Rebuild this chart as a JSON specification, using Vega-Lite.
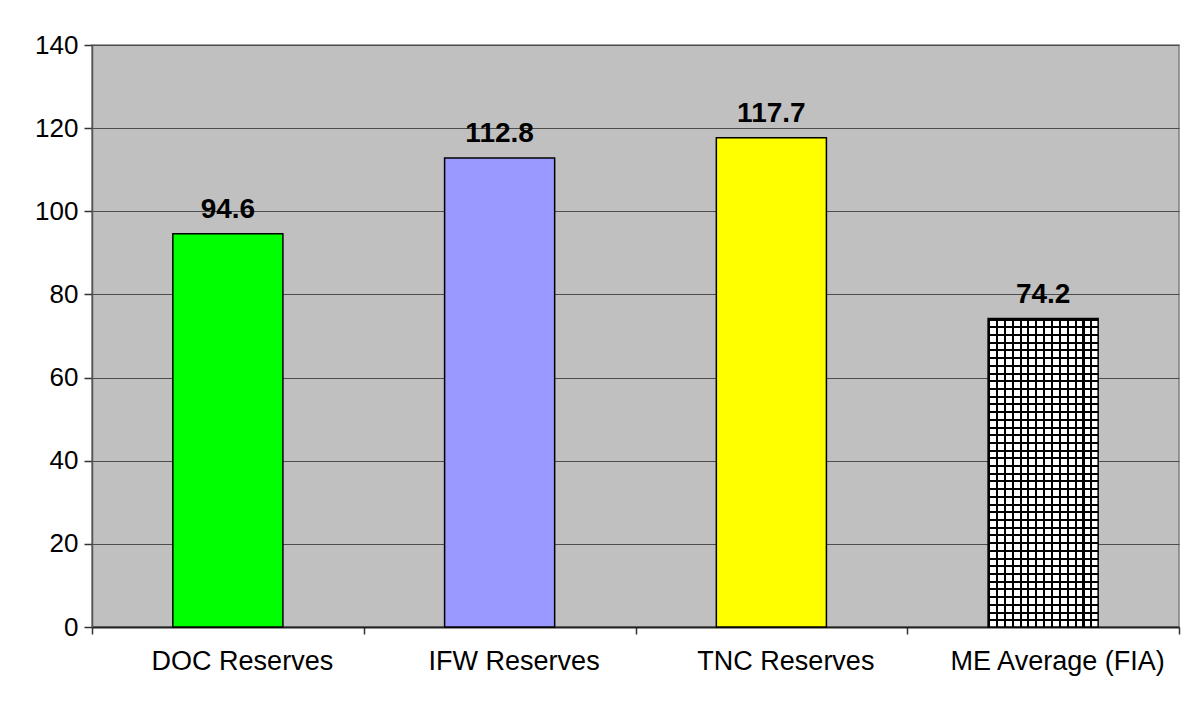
{
  "$schema": "https://vega.github.io/schema/vega-lite/v6.json",
  "autosize": "none",
  "width": 1087,
  "height": 582,
  "padding": {"left": 92, "top": 45, "right": 10, "bottom": 77},
  "background": "white",
  "config": {
    "font": "Liberation Sans",
    "view": {"fill": "#C0C0C0", "stroke": "#808080", "strokeWidth": 1.5}
  },
  "data": {
    "values": [
      {"group": "DOC Reserves", "value": 94.6},
      {"group": "IFW Reserves", "value": 112.8},
      {"group": "TNC Reserves", "value": 117.7},
      {"group": "ME Average (FIA)", "value": 74.2}
    ]
  },
  "encoding": {
    "x": {
      "field": "group",
      "type": "nominal",
      "sort": null,
      "title": null,
      "scale": {"paddingInner": 0, "paddingOuter": 0},
      "axis": {
        "labelAngle": 0,
        "labelFont": "Liberation Sans",
        "labelFontSize": 27,
        "labelColor": "#000",
        "labelLimit": 0,
        "labelPadding": 14,
        "labelOffset": 14,
        "tickBand": "extent",
        "tickSize": 7,
        "tickColor": "#333",
        "tickWidth": 1.5,
        "domainColor": "#222",
        "domainWidth": 2,
        "grid": false
      }
    },
    "y": {
      "field": "value",
      "type": "quantitative",
      "title": null,
      "scale": {"domain": [0, 140], "nice": false},
      "axis": {
        "values": [0, 20, 40, 60, 80, 100, 120, 140],
        "labelFont": "Liberation Sans",
        "labelFontSize": 26,
        "labelColor": "#000",
        "labelPadding": 6,
        "tickSize": 8,
        "tickColor": "#333",
        "tickWidth": 1.5,
        "domainColor": "#555",
        "domainWidth": 1.5,
        "grid": true,
        "gridColor": "#4d4d4d",
        "gridWidth": 1.2,
        "gridOpacity": 1
      }
    }
  },
  "layer": [
    {
      "transform": [{"filter": "datum.group !== 'ME Average (FIA)'"}],
      "mark": {"type": "bar", "width": {"band": 0.405}, "stroke": "#000", "strokeWidth": 1.5},
      "encoding": {
        "fill": {
          "field": "group",
          "type": "nominal",
          "scale": {"domain": ["DOC Reserves", "IFW Reserves", "TNC Reserves"], "range": ["#00FF00", "#9999FF", "#FFFF00"]},
          "legend": null
        }
      }
    },
    {
      "transform": [{"filter": "datum.group === 'ME Average (FIA)'"}],
      "mark": {
        "type": "bar",
        "width": {"band": 0.405},
        "fill": {
          "gradient": "linear", "x1": 0, "y1": 0, "x2": 1, "y2": 0,
          "stops": [
            {"offset": 0, "color": "#000"}, {"offset": 0.019, "color": "#000"}, {"offset": 0.019, "color": "#fff"}, {"offset": 0.0714, "color": "#fff"},
            {"offset": 0.0714, "color": "#000"}, {"offset": 0.0904, "color": "#000"}, {"offset": 0.0904, "color": "#fff"}, {"offset": 0.1429, "color": "#fff"},
            {"offset": 0.1429, "color": "#000"}, {"offset": 0.1619, "color": "#000"}, {"offset": 0.1619, "color": "#fff"}, {"offset": 0.2143, "color": "#fff"},
            {"offset": 0.2143, "color": "#000"}, {"offset": 0.2333, "color": "#000"}, {"offset": 0.2333, "color": "#fff"}, {"offset": 0.2857, "color": "#fff"},
            {"offset": 0.2857, "color": "#000"}, {"offset": 0.3047, "color": "#000"}, {"offset": 0.3047, "color": "#fff"}, {"offset": 0.3571, "color": "#fff"},
            {"offset": 0.3571, "color": "#000"}, {"offset": 0.3761, "color": "#000"}, {"offset": 0.3761, "color": "#fff"}, {"offset": 0.4286, "color": "#fff"},
            {"offset": 0.4286, "color": "#000"}, {"offset": 0.4476, "color": "#000"}, {"offset": 0.4476, "color": "#fff"}, {"offset": 0.5, "color": "#fff"},
            {"offset": 0.5, "color": "#000"}, {"offset": 0.519, "color": "#000"}, {"offset": 0.519, "color": "#fff"}, {"offset": 0.5714, "color": "#fff"},
            {"offset": 0.5714, "color": "#000"}, {"offset": 0.5904, "color": "#000"}, {"offset": 0.5904, "color": "#fff"}, {"offset": 0.6429, "color": "#fff"},
            {"offset": 0.6429, "color": "#000"}, {"offset": 0.6619, "color": "#000"}, {"offset": 0.6619, "color": "#fff"}, {"offset": 0.7143, "color": "#fff"},
            {"offset": 0.7143, "color": "#000"}, {"offset": 0.7333, "color": "#000"}, {"offset": 0.7333, "color": "#fff"}, {"offset": 0.7857, "color": "#fff"},
            {"offset": 0.7857, "color": "#000"}, {"offset": 0.8047, "color": "#000"}, {"offset": 0.8047, "color": "#fff"}, {"offset": 0.8571, "color": "#fff"},
            {"offset": 0.8571, "color": "#000"}, {"offset": 0.8761, "color": "#000"}, {"offset": 0.8761, "color": "#fff"}, {"offset": 0.9286, "color": "#fff"},
            {"offset": 0.9286, "color": "#000"}, {"offset": 0.9476, "color": "#000"}, {"offset": 0.9476, "color": "#fff"}, {"offset": 1, "color": "#fff"}
          ]
        }
      }
    },
    {
      "transform": [{"filter": "datum.group === 'ME Average (FIA)'"}],
      "mark": {
        "type": "bar",
        "width": {"band": 0.405},
        "stroke": "#000",
        "strokeWidth": 1.5,
        "fill": {
          "gradient": "linear", "x1": 0, "y1": 0, "x2": 0, "y2": 1,
          "stops": [
            {"offset": 0, "color": "rgba(0,0,0,1)"}, {"offset": 0.0065, "color": "rgba(0,0,0,1)"}, {"offset": 0.0065, "color": "rgba(0,0,0,0)"}, {"offset": 0.025, "color": "rgba(0,0,0,0)"},
            {"offset": 0.025, "color": "rgba(0,0,0,1)"}, {"offset": 0.0315, "color": "rgba(0,0,0,1)"}, {"offset": 0.0315, "color": "rgba(0,0,0,0)"}, {"offset": 0.05, "color": "rgba(0,0,0,0)"},
            {"offset": 0.05, "color": "rgba(0,0,0,1)"}, {"offset": 0.0565, "color": "rgba(0,0,0,1)"}, {"offset": 0.0565, "color": "rgba(0,0,0,0)"}, {"offset": 0.075, "color": "rgba(0,0,0,0)"},
            {"offset": 0.075, "color": "rgba(0,0,0,1)"}, {"offset": 0.0815, "color": "rgba(0,0,0,1)"}, {"offset": 0.0815, "color": "rgba(0,0,0,0)"}, {"offset": 0.1, "color": "rgba(0,0,0,0)"},
            {"offset": 0.1, "color": "rgba(0,0,0,1)"}, {"offset": 0.1065, "color": "rgba(0,0,0,1)"}, {"offset": 0.1065, "color": "rgba(0,0,0,0)"}, {"offset": 0.125, "color": "rgba(0,0,0,0)"},
            {"offset": 0.125, "color": "rgba(0,0,0,1)"}, {"offset": 0.1315, "color": "rgba(0,0,0,1)"}, {"offset": 0.1315, "color": "rgba(0,0,0,0)"}, {"offset": 0.15, "color": "rgba(0,0,0,0)"},
            {"offset": 0.15, "color": "rgba(0,0,0,1)"}, {"offset": 0.1565, "color": "rgba(0,0,0,1)"}, {"offset": 0.1565, "color": "rgba(0,0,0,0)"}, {"offset": 0.175, "color": "rgba(0,0,0,0)"},
            {"offset": 0.175, "color": "rgba(0,0,0,1)"}, {"offset": 0.1815, "color": "rgba(0,0,0,1)"}, {"offset": 0.1815, "color": "rgba(0,0,0,0)"}, {"offset": 0.2, "color": "rgba(0,0,0,0)"},
            {"offset": 0.2, "color": "rgba(0,0,0,1)"}, {"offset": 0.2065, "color": "rgba(0,0,0,1)"}, {"offset": 0.2065, "color": "rgba(0,0,0,0)"}, {"offset": 0.225, "color": "rgba(0,0,0,0)"},
            {"offset": 0.225, "color": "rgba(0,0,0,1)"}, {"offset": 0.2315, "color": "rgba(0,0,0,1)"}, {"offset": 0.2315, "color": "rgba(0,0,0,0)"}, {"offset": 0.25, "color": "rgba(0,0,0,0)"},
            {"offset": 0.25, "color": "rgba(0,0,0,1)"}, {"offset": 0.2565, "color": "rgba(0,0,0,1)"}, {"offset": 0.2565, "color": "rgba(0,0,0,0)"}, {"offset": 0.275, "color": "rgba(0,0,0,0)"},
            {"offset": 0.275, "color": "rgba(0,0,0,1)"}, {"offset": 0.2815, "color": "rgba(0,0,0,1)"}, {"offset": 0.2815, "color": "rgba(0,0,0,0)"}, {"offset": 0.3, "color": "rgba(0,0,0,0)"},
            {"offset": 0.3, "color": "rgba(0,0,0,1)"}, {"offset": 0.3065, "color": "rgba(0,0,0,1)"}, {"offset": 0.3065, "color": "rgba(0,0,0,0)"}, {"offset": 0.325, "color": "rgba(0,0,0,0)"},
            {"offset": 0.325, "color": "rgba(0,0,0,1)"}, {"offset": 0.3315, "color": "rgba(0,0,0,1)"}, {"offset": 0.3315, "color": "rgba(0,0,0,0)"}, {"offset": 0.35, "color": "rgba(0,0,0,0)"},
            {"offset": 0.35, "color": "rgba(0,0,0,1)"}, {"offset": 0.3565, "color": "rgba(0,0,0,1)"}, {"offset": 0.3565, "color": "rgba(0,0,0,0)"}, {"offset": 0.375, "color": "rgba(0,0,0,0)"},
            {"offset": 0.375, "color": "rgba(0,0,0,1)"}, {"offset": 0.3815, "color": "rgba(0,0,0,1)"}, {"offset": 0.3815, "color": "rgba(0,0,0,0)"}, {"offset": 0.4, "color": "rgba(0,0,0,0)"},
            {"offset": 0.4, "color": "rgba(0,0,0,1)"}, {"offset": 0.4065, "color": "rgba(0,0,0,1)"}, {"offset": 0.4065, "color": "rgba(0,0,0,0)"}, {"offset": 0.425, "color": "rgba(0,0,0,0)"},
            {"offset": 0.425, "color": "rgba(0,0,0,1)"}, {"offset": 0.4315, "color": "rgba(0,0,0,1)"}, {"offset": 0.4315, "color": "rgba(0,0,0,0)"}, {"offset": 0.45, "color": "rgba(0,0,0,0)"},
            {"offset": 0.45, "color": "rgba(0,0,0,1)"}, {"offset": 0.4565, "color": "rgba(0,0,0,1)"}, {"offset": 0.4565, "color": "rgba(0,0,0,0)"}, {"offset": 0.475, "color": "rgba(0,0,0,0)"},
            {"offset": 0.475, "color": "rgba(0,0,0,1)"}, {"offset": 0.4815, "color": "rgba(0,0,0,1)"}, {"offset": 0.4815, "color": "rgba(0,0,0,0)"}, {"offset": 0.5, "color": "rgba(0,0,0,0)"},
            {"offset": 0.5, "color": "rgba(0,0,0,1)"}, {"offset": 0.5065, "color": "rgba(0,0,0,1)"}, {"offset": 0.5065, "color": "rgba(0,0,0,0)"}, {"offset": 0.525, "color": "rgba(0,0,0,0)"},
            {"offset": 0.525, "color": "rgba(0,0,0,1)"}, {"offset": 0.5315, "color": "rgba(0,0,0,1)"}, {"offset": 0.5315, "color": "rgba(0,0,0,0)"}, {"offset": 0.55, "color": "rgba(0,0,0,0)"},
            {"offset": 0.55, "color": "rgba(0,0,0,1)"}, {"offset": 0.5565, "color": "rgba(0,0,0,1)"}, {"offset": 0.5565, "color": "rgba(0,0,0,0)"}, {"offset": 0.575, "color": "rgba(0,0,0,0)"},
            {"offset": 0.575, "color": "rgba(0,0,0,1)"}, {"offset": 0.5815, "color": "rgba(0,0,0,1)"}, {"offset": 0.5815, "color": "rgba(0,0,0,0)"}, {"offset": 0.6, "color": "rgba(0,0,0,0)"},
            {"offset": 0.6, "color": "rgba(0,0,0,1)"}, {"offset": 0.6065, "color": "rgba(0,0,0,1)"}, {"offset": 0.6065, "color": "rgba(0,0,0,0)"}, {"offset": 0.625, "color": "rgba(0,0,0,0)"},
            {"offset": 0.625, "color": "rgba(0,0,0,1)"}, {"offset": 0.6315, "color": "rgba(0,0,0,1)"}, {"offset": 0.6315, "color": "rgba(0,0,0,0)"}, {"offset": 0.65, "color": "rgba(0,0,0,0)"},
            {"offset": 0.65, "color": "rgba(0,0,0,1)"}, {"offset": 0.6565, "color": "rgba(0,0,0,1)"}, {"offset": 0.6565, "color": "rgba(0,0,0,0)"}, {"offset": 0.675, "color": "rgba(0,0,0,0)"},
            {"offset": 0.675, "color": "rgba(0,0,0,1)"}, {"offset": 0.6815, "color": "rgba(0,0,0,1)"}, {"offset": 0.6815, "color": "rgba(0,0,0,0)"}, {"offset": 0.7, "color": "rgba(0,0,0,0)"},
            {"offset": 0.7, "color": "rgba(0,0,0,1)"}, {"offset": 0.7065, "color": "rgba(0,0,0,1)"}, {"offset": 0.7065, "color": "rgba(0,0,0,0)"}, {"offset": 0.725, "color": "rgba(0,0,0,0)"},
            {"offset": 0.725, "color": "rgba(0,0,0,1)"}, {"offset": 0.7315, "color": "rgba(0,0,0,1)"}, {"offset": 0.7315, "color": "rgba(0,0,0,0)"}, {"offset": 0.75, "color": "rgba(0,0,0,0)"},
            {"offset": 0.75, "color": "rgba(0,0,0,1)"}, {"offset": 0.7565, "color": "rgba(0,0,0,1)"}, {"offset": 0.7565, "color": "rgba(0,0,0,0)"}, {"offset": 0.775, "color": "rgba(0,0,0,0)"},
            {"offset": 0.775, "color": "rgba(0,0,0,1)"}, {"offset": 0.7815, "color": "rgba(0,0,0,1)"}, {"offset": 0.7815, "color": "rgba(0,0,0,0)"}, {"offset": 0.8, "color": "rgba(0,0,0,0)"},
            {"offset": 0.8, "color": "rgba(0,0,0,1)"}, {"offset": 0.8065, "color": "rgba(0,0,0,1)"}, {"offset": 0.8065, "color": "rgba(0,0,0,0)"}, {"offset": 0.825, "color": "rgba(0,0,0,0)"},
            {"offset": 0.825, "color": "rgba(0,0,0,1)"}, {"offset": 0.8315, "color": "rgba(0,0,0,1)"}, {"offset": 0.8315, "color": "rgba(0,0,0,0)"}, {"offset": 0.85, "color": "rgba(0,0,0,0)"},
            {"offset": 0.85, "color": "rgba(0,0,0,1)"}, {"offset": 0.8565, "color": "rgba(0,0,0,1)"}, {"offset": 0.8565, "color": "rgba(0,0,0,0)"}, {"offset": 0.875, "color": "rgba(0,0,0,0)"},
            {"offset": 0.875, "color": "rgba(0,0,0,1)"}, {"offset": 0.8815, "color": "rgba(0,0,0,1)"}, {"offset": 0.8815, "color": "rgba(0,0,0,0)"}, {"offset": 0.9, "color": "rgba(0,0,0,0)"},
            {"offset": 0.9, "color": "rgba(0,0,0,1)"}, {"offset": 0.9065, "color": "rgba(0,0,0,1)"}, {"offset": 0.9065, "color": "rgba(0,0,0,0)"}, {"offset": 0.925, "color": "rgba(0,0,0,0)"},
            {"offset": 0.925, "color": "rgba(0,0,0,1)"}, {"offset": 0.9315, "color": "rgba(0,0,0,1)"}, {"offset": 0.9315, "color": "rgba(0,0,0,0)"}, {"offset": 0.95, "color": "rgba(0,0,0,0)"},
            {"offset": 0.95, "color": "rgba(0,0,0,1)"}, {"offset": 0.9565, "color": "rgba(0,0,0,1)"}, {"offset": 0.9565, "color": "rgba(0,0,0,0)"}, {"offset": 0.975, "color": "rgba(0,0,0,0)"},
            {"offset": 0.975, "color": "rgba(0,0,0,1)"}, {"offset": 0.9815, "color": "rgba(0,0,0,1)"}, {"offset": 0.9815, "color": "rgba(0,0,0,0)"}, {"offset": 1, "color": "rgba(0,0,0,0)"}
          ]
        }
      }
    },
    {
      "mark": {
        "type": "text",
        "font": "Liberation Sans",
        "fontSize": 28,
        "fontWeight": "bold",
        "color": "#000",
        "baseline": "alphabetic",
        "dy": -16
      },
      "encoding": {
        "text": {"field": "value", "type": "quantitative", "format": ".1f"}
      }
    }
  ]
}
